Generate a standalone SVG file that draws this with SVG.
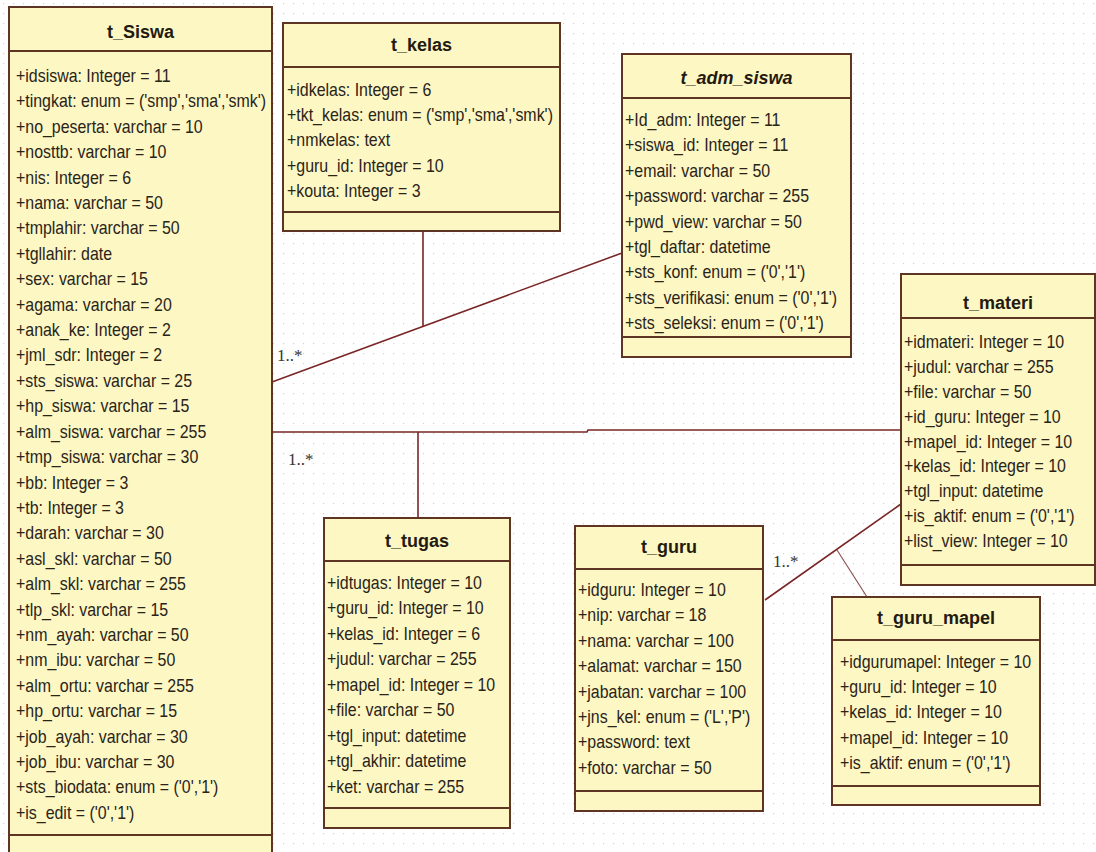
<svg xmlns="http://www.w3.org/2000/svg" width="1096" height="852" viewBox="0 0 1096 852">
<defs>
<pattern id="grid" x="3" y="3" width="10" height="10" patternUnits="userSpaceOnUse">
<rect x="0" y="0" width="1.2" height="1.2" fill="#cfcfd8"/>
</pattern>
<style>
.box{fill:#fdf7c4;stroke:#5e3422;stroke-width:2}
.div{stroke:#5e3422;stroke-width:2}
.title{font-family:"Liberation Sans",Arial,sans-serif;font-weight:bold;font-size:18px;fill:#231a10;text-anchor:middle}
.ital{font-style:italic}
.attr{font-family:"Liberation Sans",Arial,sans-serif;font-size:18px;fill:#2a2418}
.conn{stroke:#7a2626;stroke-width:1.6;fill:none}
.thin{stroke:#8a4a4a;stroke-width:1.1;fill:none}
.mult{font-family:"Liberation Serif","Times New Roman",serif;font-size:17px;fill:#333}
</style>
</defs>
<rect width="1096" height="852" fill="#ffffff"/>
<rect width="1096" height="852" fill="url(#grid)"/>

<g id="connectors">
<line class="conn" x1="272" y1="382" x2="622" y2="253"/>
<line class="conn" x1="423" y1="231" x2="423" y2="327"/>
<polyline class="conn" points="272,432 587,432 588,430 901,430"/>
<line class="conn" x1="418" y1="432" x2="418" y2="518"/>
<line class="conn" x1="765" y1="600" x2="901" y2="504"/>
<line class="thin" x1="837" y1="550" x2="867" y2="597"/>
<text class="mult" x="277" y="361">1..*</text>
<text class="mult" x="288" y="465">1..*</text>
<text class="mult" x="773" y="567">1..*</text>
</g>

<g id="t_Siswa">
<rect class="box" x="9" y="7" width="263" height="870"/>
<line class="div" x1="9" y1="51" x2="272" y2="51"/>
<line class="div" x1="9" y1="835" x2="272" y2="835"/>
<text class="title" x="140.5" y="38">t_Siswa</text>
<g transform="translate(16,0) scale(0.885,1)">
<text class="attr" y="82">
<tspan x="0">+idsiswa: Integer = 11</tspan>
<tspan x="0" dy="25.41">+tingkat: enum = ('smp','sma','smk')</tspan>
<tspan x="0" dy="25.41">+no_peserta: varchar = 10</tspan>
<tspan x="0" dy="25.41">+nosttb: varchar = 10</tspan>
<tspan x="0" dy="25.41">+nis: Integer = 6</tspan>
<tspan x="0" dy="25.41">+nama: varchar = 50</tspan>
<tspan x="0" dy="25.41">+tmplahir: varchar = 50</tspan>
<tspan x="0" dy="25.41">+tgllahir: date</tspan>
<tspan x="0" dy="25.41">+sex: varchar = 15</tspan>
<tspan x="0" dy="25.41">+agama: varchar = 20</tspan>
<tspan x="0" dy="25.41">+anak_ke: Integer = 2</tspan>
<tspan x="0" dy="25.41">+jml_sdr: Integer = 2</tspan>
<tspan x="0" dy="25.41">+sts_siswa: varchar = 25</tspan>
<tspan x="0" dy="25.41">+hp_siswa: varchar = 15</tspan>
<tspan x="0" dy="25.41">+alm_siswa: varchar = 255</tspan>
<tspan x="0" dy="25.41">+tmp_siswa: varchar = 30</tspan>
<tspan x="0" dy="25.41">+bb: Integer = 3</tspan>
<tspan x="0" dy="25.41">+tb: Integer = 3</tspan>
<tspan x="0" dy="25.41">+darah: varchar = 30</tspan>
<tspan x="0" dy="25.41">+asl_skl: varchar = 50</tspan>
<tspan x="0" dy="25.41">+alm_skl: varchar = 255</tspan>
<tspan x="0" dy="25.41">+tlp_skl: varchar = 15</tspan>
<tspan x="0" dy="25.41">+nm_ayah: varchar = 50</tspan>
<tspan x="0" dy="25.41">+nm_ibu: varchar = 50</tspan>
<tspan x="0" dy="25.41">+alm_ortu: varchar = 255</tspan>
<tspan x="0" dy="25.41">+hp_ortu: varchar = 15</tspan>
<tspan x="0" dy="25.41">+job_ayah: varchar = 30</tspan>
<tspan x="0" dy="25.41">+job_ibu: varchar = 30</tspan>
<tspan x="0" dy="25.41">+sts_biodata: enum = ('0','1')</tspan>
<tspan x="0" dy="25.41">+is_edit = ('0','1')</tspan>
</text>
</g>
</g>

<g id="t_kelas">
<rect class="box" x="283" y="23" width="277" height="208"/>
<line class="div" x1="283" y1="67" x2="560" y2="67"/>
<line class="div" x1="283" y1="212" x2="560" y2="212"/>
<text class="title" x="421.5" y="51">t_kelas</text>
<g transform="translate(287,0) scale(0.885,1)">
<text class="attr" y="96">
<tspan x="0">+idkelas: Integer = 6</tspan>
<tspan x="0" dy="25.2">+tkt_kelas: enum = ('smp','sma','smk')</tspan>
<tspan x="0" dy="25.2">+nmkelas: text</tspan>
<tspan x="0" dy="25.2">+guru_id: Integer = 10</tspan>
<tspan x="0" dy="25.2">+kouta: Integer = 3</tspan>
</text>
</g>
</g>

<g id="t_adm_siswa">
<rect class="box" x="622" y="54" width="229" height="303"/>
<line class="div" x1="622" y1="98" x2="851" y2="98"/>
<line class="div" x1="622" y1="337" x2="851" y2="337"/>
<text class="title ital" x="736.5" y="84">t_adm_siswa</text>
<g transform="translate(625,0) scale(0.885,1)">
<text class="attr" y="126">
<tspan x="0">+Id_adm: Integer = 11</tspan>
<tspan x="0" dy="25.4">+siswa_id: Integer = 11</tspan>
<tspan x="0" dy="25.4">+email: varchar = 50</tspan>
<tspan x="0" dy="25.4">+password: varchar = 255</tspan>
<tspan x="0" dy="25.4">+pwd_view: varchar = 50</tspan>
<tspan x="0" dy="25.4">+tgl_daftar: datetime</tspan>
<tspan x="0" dy="25.4">+sts_konf: enum = ('0','1')</tspan>
<tspan x="0" dy="25.4">+sts_verifikasi: enum = ('0','1')</tspan>
<tspan x="0" dy="25.4">+sts_seleksi: enum = ('0','1')</tspan>
</text>
</g>
</g>

<g id="t_materi">
<rect class="box" x="901" y="274" width="194" height="311"/>
<line class="div" x1="901" y1="318" x2="1095" y2="318"/>
<line class="div" x1="901" y1="565" x2="1095" y2="565"/>
<text class="title" x="998" y="309">t_materi</text>
<g transform="translate(904,0) scale(0.885,1)">
<text class="attr" y="348">
<tspan x="0">+idmateri: Integer = 10</tspan>
<tspan x="0" dy="24.9">+judul: varchar = 255</tspan>
<tspan x="0" dy="24.9">+file: varchar = 50</tspan>
<tspan x="0" dy="24.9">+id_guru: Integer = 10</tspan>
<tspan x="0" dy="24.9">+mapel_id: Integer = 10</tspan>
<tspan x="0" dy="24.9">+kelas_id: Integer = 10</tspan>
<tspan x="0" dy="24.9">+tgl_input: datetime</tspan>
<tspan x="0" dy="24.9">+is_aktif: enum = ('0','1')</tspan>
<tspan x="0" dy="24.9">+list_view: Integer = 10</tspan>
</text>
</g>
</g>

<g id="t_tugas">
<rect class="box" x="324" y="518" width="186" height="310"/>
<line class="div" x1="324" y1="561" x2="510" y2="561"/>
<line class="div" x1="324" y1="808" x2="510" y2="808"/>
<text class="title" x="417" y="547">t_tugas</text>
<g transform="translate(327,0) scale(0.885,1)">
<text class="attr" y="589">
<tspan x="0">+idtugas: Integer = 10</tspan>
<tspan x="0" dy="25.5">+guru_id: Integer = 10</tspan>
<tspan x="0" dy="25.5">+kelas_id: Integer = 6</tspan>
<tspan x="0" dy="25.5">+judul: varchar = 255</tspan>
<tspan x="0" dy="25.5">+mapel_id: Integer = 10</tspan>
<tspan x="0" dy="25.5">+file: varchar = 50</tspan>
<tspan x="0" dy="25.5">+tgl_input: datetime</tspan>
<tspan x="0" dy="25.5">+tgl_akhir: datetime</tspan>
<tspan x="0" dy="25.5">+ket: varchar = 255</tspan>
</text>
</g>
</g>

<g id="t_guru">
<rect class="box" x="575" y="526" width="188" height="285"/>
<line class="div" x1="575" y1="569" x2="763" y2="569"/>
<line class="div" x1="575" y1="791" x2="763" y2="791"/>
<text class="title" x="669" y="553">t_guru</text>
<g transform="translate(578,0) scale(0.885,1)">
<text class="attr" y="596">
<tspan x="0">+idguru: Integer = 10</tspan>
<tspan x="0" dy="25.4">+nip: varchar = 18</tspan>
<tspan x="0" dy="25.4">+nama: varchar = 100</tspan>
<tspan x="0" dy="25.4">+alamat: varchar = 150</tspan>
<tspan x="0" dy="25.4">+jabatan: varchar = 100</tspan>
<tspan x="0" dy="25.4">+jns_kel: enum = ('L','P')</tspan>
<tspan x="0" dy="25.4">+password: text</tspan>
<tspan x="0" dy="25.4">+foto: varchar = 50</tspan>
</text>
</g>
</g>

<g id="t_guru_mapel">
<rect class="box" x="832" y="597" width="208" height="208"/>
<line class="div" x1="832" y1="640" x2="1040" y2="640"/>
<line class="div" x1="832" y1="786" x2="1040" y2="786"/>
<text class="title" x="936" y="624">t_guru_mapel</text>
<g transform="translate(840,0) scale(0.885,1)">
<text class="attr" y="668">
<tspan x="0">+idgurumapel: Integer = 10</tspan>
<tspan x="0" dy="25.25">+guru_id: Integer = 10</tspan>
<tspan x="0" dy="25.25">+kelas_id: Integer = 10</tspan>
<tspan x="0" dy="25.25">+mapel_id: Integer = 10</tspan>
<tspan x="0" dy="25.25">+is_aktif: enum = ('0','1')</tspan>
</text>
</g>
</g>
</svg>
